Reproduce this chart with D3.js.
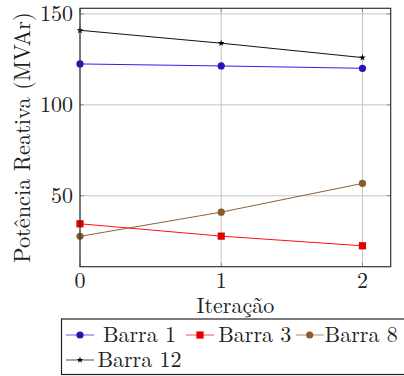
<!DOCTYPE html>
<html>
<head>
<meta charset="utf-8">
<script src="https://cdn.jsdelivr.net/npm/d3@7"></script>
<style>
  html, body { margin: 0; padding: 0; background: #fff; }
</style>
</head>
<body>
<svg width="404" height="376"></svg>
<script>
// data
const iterations = [0, 1, 2]
const seriesNames = ["Barra 1", "Barra 3", "Barra 8", "Barra 12"]
const barra1 = [122.5, 121.4, 120.1]
const barra3 = [34.6, 27.8, 22.5]
const barra8 = [27.7, 41.0, 56.8]
const barra12 = [141.0, 133.9, 126.0]
const xTicks = [0, 1, 2]
const yTicks = [50, 100, 150]

const width = 404
const height = 376
const plot = { left: 80, right: 390.7, top: 8.3, bottom: 266.7 }
const font = "Latin Modern Roman, Liberation Serif, serif"

const styles = [
  { line: "#3a1de6", mark: "#2a10bf", symbol: "circle" },
  { line: "#ff1010", mark: "#e00000", symbol: "square" },
  { line: "#86633f", mark: "#8b5a2b", symbol: "circle" },
  { line: "#111111", mark: "#000000", symbol: "star" }
]
const seriesValues = [barra1, barra3, barra8, barra12]

const svg = d3.select("svg").attr("font-family", font)

const x = d3.scaleLinear().domain([0, 2.2]).range([plot.left, plot.right])
const y = d3.scaleLinear().domain([11, 153.1]).range([plot.bottom, plot.top])

// grid
const grid = svg.append("g").attr("stroke", "#c6c6c6").attr("stroke-width", 1)
grid.selectAll(".gx").data(xTicks).enter().append("line")
  .attr("x1", d => x(d)).attr("x2", d => x(d))
  .attr("y1", plot.top).attr("y2", plot.bottom)
grid.selectAll(".gy").data(yTicks).enter().append("line")
  .attr("x1", plot.left).attr("x2", plot.right)
  .attr("y1", d => y(d)).attr("y2", d => y(d))

// inner tick marks on all four sides
const ticks = svg.append("g").attr("stroke", "#8a8a8a").attr("stroke-width", 1)
xTicks.forEach(t => {
  ticks.append("line").attr("x1", x(t)).attr("x2", x(t)).attr("y1", plot.bottom).attr("y2", plot.bottom - 4)
  ticks.append("line").attr("x1", x(t)).attr("x2", x(t)).attr("y1", plot.top).attr("y2", plot.top + 4)
})
yTicks.forEach(t => {
  ticks.append("line").attr("x1", plot.left).attr("x2", plot.left + 4).attr("y1", y(t)).attr("y2", y(t))
  ticks.append("line").attr("x1", plot.right).attr("x2", plot.right - 4).attr("y1", y(t)).attr("y2", y(t))
})

// series
function marker(g, kind, color, cx, cy) {
  if (kind == "circle") {
    g.append("circle").attr("cx", cx).attr("cy", cy).attr("r", 3.6).attr("fill", color)
  } else if (kind == "square") {
    g.append("rect").attr("x", cx - 3.6).attr("y", cy - 3.6).attr("width", 7.2).attr("height", 7.2).attr("fill", color)
  } else {
    g.append("path").attr("transform", "translate(" + cx + "," + cy + ")")
      .attr("d", d3.symbol().type(d3.symbolStar).size(14)()).attr("fill", color)
  }
}

const line = d3.line().x((d, i) => x(iterations[i])).y(d => y(d))
const lines = svg.append("g")
seriesValues.forEach((vals, s) => {
  lines.append("path").datum(vals)
    .attr("fill", "none").attr("stroke", styles[s].line).attr("stroke-width", 1)
    .attr("d", line)
})
seriesValues.forEach((vals, s) => {
  vals.forEach((v, i) => marker(lines, styles[s].symbol, styles[s].mark, x(iterations[i]), y(v)))
})

// frame
svg.append("rect")
  .attr("x", plot.left).attr("y", plot.top)
  .attr("width", plot.right - plot.left).attr("height", plot.bottom - plot.top)
  .attr("fill", "none").attr("stroke", "#333").attr("stroke-width", 1.2)

// tick labels
svg.append("g").selectAll("text").data(xTicks).enter().append("text")
  .attr("x", d => x(d)).attr("y", 288)
  .attr("text-anchor", "middle").attr("font-size", 22).attr("fill", "#222")
  .text(d => d)
svg.append("g").selectAll("text").data(yTicks).enter().append("text")
  .attr("x", 73).attr("y", d => y(d) + 7.5)
  .attr("text-anchor", "end").attr("font-size", 22).attr("fill", "#222")
  .text(d => d)

// axis titles
svg.append("text")
  .attr("x", (plot.left + plot.right) / 2).attr("y", 313)
  .attr("text-anchor", "middle").attr("font-size", 22).attr("fill", "#222")
  .text("Iteração")
svg.append("text")
  .attr("transform", "translate(30," + ((plot.top + plot.bottom) / 2) + ") rotate(-90)")
  .attr("text-anchor", "middle").attr("font-size", 22.3).attr("fill", "#222")
  .text("Potência Reativa (MVAr)")

// legend
const legend = svg.append("g")
legend.append("rect")
  .attr("x", 61.5).attr("y", 319).attr("width", 360).attr("height", 55.5)
  .attr("fill", "#fff").attr("stroke", "#222").attr("stroke-width", 1.2)

const colImg = [80, 200, 309.7]
const colText = [139.5, 254.8, 361.2]
const rowY = [335, 360]
seriesNames.forEach((name, s) => {
  const col = s % 3
  const row = Math.floor(s / 3)
  const item = legend.append("g")
  item.append("line")
    .attr("x1", colImg[col] - 14).attr("x2", colImg[col] + 14)
    .attr("y1", rowY[row]).attr("y2", rowY[row])
    .attr("stroke", styles[s].line).attr("stroke-width", 1.2).attr("opacity", 0.6)
  marker(item, styles[s].symbol, styles[s].mark, colImg[col], rowY[row])
  item.append("text")
    .attr("x", colText[col]).attr("y", rowY[row] + 7)
    .attr("text-anchor", "middle").attr("font-size", 22).attr("fill", "#222")
    .text(name)
})
</script>
</body>
</html>
